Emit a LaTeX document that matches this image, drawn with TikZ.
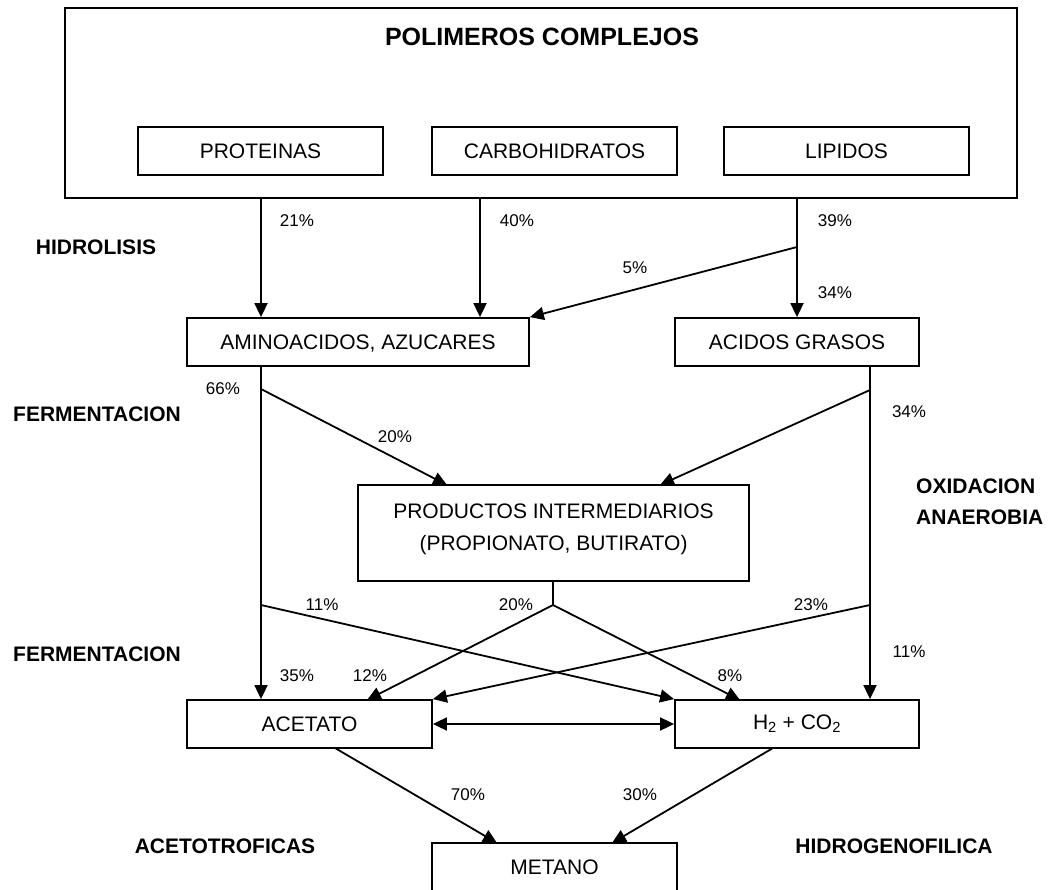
\documentclass[tikz,border=0pt]{standalone}
\usepackage{fontspec}
\setmainfont{Liberation Sans}
\usetikzlibrary{arrows.meta}

\tikzset{
  caja/.style={draw, line width=1.8pt, inner sep=0pt, minimum height=48, font=\fontsize{21}{32}\selectfont},
  pct/.style={inner sep=0pt, font=\fontsize{17}{20}\selectfont},
  etapa/.style={inner sep=0pt, font=\fontsize{21}{31}\selectfont\bfseries},
  linea/.style={line width=1.8pt},
  flecha/.style={line width=1.8pt, -{Triangle[length=14pt,width=13pt]}},
  doble/.style={line width=1.8pt, {Triangle[length=14pt,width=13pt]}-{Triangle[length=14pt,width=13pt]}}
}

\begin{document}
\begin{tikzpicture}[x=1pt,y=-1pt]
        \useasboundingbox (0,0) rectangle (1049,890);

        % polimeros
        \node (poli) at (541,103) [caja, minimum width=952, minimum height=190] {};
        \node (titulo) at (542,37) [inner sep=0pt, font=\fontsize{25}{30}\selectfont\bfseries] {POLIMEROS COMPLEJOS};
        \node (prot) at (260.5,151) [caja, minimum width=245] {PROTEINAS};
        \node (carb) at (554.5,151) [caja, minimum width=245] {CARBOHIDRATOS};
        \node (lip) at (846.5,151) [caja, minimum width=245] {LIPIDOS};

        % cajas
        \node (ami) at (358,342) [caja, minimum width=342, text depth=0pt] {AMINOACIDOS, AZUCARES};
        \node (acg) at (797,342) [caja, minimum width=244] {ACIDOS GRASOS};
        \node (prod) at (553.5,533) [caja, minimum width=391, minimum height=96, align=center, text depth=12pt] {PRODUCTOS INTERMEDIARIOS\\(PROPIONATO, BUTIRATO)};
        \node (ace) at (309.5,724) [caja, minimum width=245] {ACETATO};
        \node (hid) at (797,724) [caja, minimum width=244] {H\textsubscript{2} + CO\textsubscript{2}};
        \node (met) at (554.5,867) [caja, minimum width=245] {METANO};

        % puntos
        \coordinate (sP) at (261,198);
        \coordinate (sC) at (480,198);
        \coordinate (sL) at (797,198);
        \coordinate (bL) at (797,247);
        \coordinate (bA1) at (261,389);
        \coordinate (bA2) at (261,605);
        \coordinate (bG1) at (870,390);
        \coordinate (bG2) at (870,605);
        \coordinate (bP) at (553,605);
        \coordinate (eP1) at (447,485);
        \coordinate (eP2) at (660,485);
        \coordinate (eA) at (367,700);
        \coordinate (eH) at (740,700);
        \coordinate (sA) at (335,748);
        \coordinate (sH) at (773,748);
        \coordinate (eM1) at (497,843);
        \coordinate (eM2) at (612,843);

        % hidrolisis
        \draw [flecha] (sP) -- (sP |- ami.north);
        \draw [flecha] (sC) -- (sC |- ami.north);
        \draw [flecha] (sL) -- (acg.north);
        \draw [flecha] (bL) -- (ami.north east);

        % fermentacion y oxidacion
        \draw [flecha] (sP |- ami.south) -- (sP |- ace.north);
        \draw [flecha] (bA1) -- (eP1);
        \draw [flecha] (bG1 |- acg.south) -- (bG1 |- hid.north);
        \draw [flecha] (bG1) -- (eP2);
        \draw [linea] (prod.south -| bP) -- (bP);
        \draw [flecha] (bP) -- (eA);
        \draw [flecha] (bP) -- (eH);
        \draw [flecha] (bA2) -- (hid.north west);
        \draw [flecha] (bG2) -- (ace.north east);
        \draw [doble] (ace.east) -- (hid.west);

        % metanogenesis
        \draw [flecha] (sA) -- (eM1);
        \draw [flecha] (sH) -- (eM2);

        % porcentajes
        \node (p21) at (297,221) [pct] {21\%};
        \node (p40) at (517,221) [pct] {40\%};
        \node (p39) at (835,221) [pct] {39\%};
        \node (p5) at (635,268) [pct] {5\%};
        \node (p34a) at (835,293) [pct] {34\%};
        \node (p66) at (223,389) [pct] {66\%};
        \node (p20a) at (395,437) [pct] {20\%};
        \node (p34b) at (909,412) [pct] {34\%};
        \node (p11a) at (322,605) [pct] {11\%};
        \node (p20b) at (516,605) [pct] {20\%};
        \node (p23) at (811,605) [pct] {23\%};
        \node (p11b) at (909,652) [pct] {11\%};
        \node (p35) at (297,676) [pct] {35\%};
        \node (p12) at (370,676) [pct] {12\%};
        \node (p8) at (730,676) [pct] {8\%};
        \node (p70) at (468,795) [pct] {70\%};
        \node (p30) at (640,795) [pct] {30\%};

        % etapas
        \node (hidro) at (96,247) [etapa] {HIDROLISIS};
        \node (ferm1) at (97,414) [etapa] {FERMENTACION};
        \node (oxi) at (916,502) [etapa, anchor=west, align=left] {OXIDACION\\ANAEROBIA};
        \node (ferm2) at (97,654) [etapa] {FERMENTACION};
        \node (acet) at (225,846) [etapa] {ACETOTROFICAS};
        \node (hidg) at (894,846) [etapa] {HIDROGENOFILICA};
    \end{tikzpicture}
\end{document}
